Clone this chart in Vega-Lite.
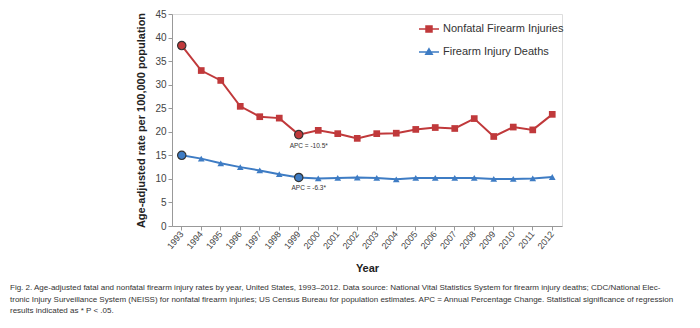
{
  "$schema": "https://vega.github.io/schema/vega-lite/v6.json",
  "autosize": "none",
  "width": 390,
  "height": 212,
  "padding": {"left": 172, "top": 14, "right": 138, "bottom": 102},
  "background": "white",
  "title": {
    "text": [
      "Fig. 2. Age-adjusted fatal and nonfatal firearm injury rates by year, United States, 1993–2012. Data source: National Vital Statistics System for firearm injury deaths; CDC/National Elec-",
      "tronic Injury Surveillance System (NEISS) for nonfatal firearm injuries; US Census Bureau for population estimates. APC = Annual Percentage Change. Statistical significance of regression",
      "results indicated as * P < .05."
    ],
    "orient": "bottom",
    "anchor": "start",
    "frame": "group",
    "dx": -162,
    "offset": 11,
    "font": "Liberation Sans",
    "fontSize": 8,
    "fontWeight": "normal",
    "lineHeight": 11.5,
    "color": "#333"
  },
  "data": {
    "values": [
      {"year": "1993", "series": "Nonfatal Firearm Injuries", "rate": 38.3},
      {"year": "1994", "series": "Nonfatal Firearm Injuries", "rate": 33.0},
      {"year": "1995", "series": "Nonfatal Firearm Injuries", "rate": 30.9},
      {"year": "1996", "series": "Nonfatal Firearm Injuries", "rate": 25.4},
      {"year": "1997", "series": "Nonfatal Firearm Injuries", "rate": 23.2},
      {"year": "1998", "series": "Nonfatal Firearm Injuries", "rate": 22.9},
      {"year": "1999", "series": "Nonfatal Firearm Injuries", "rate": 19.4},
      {"year": "2000", "series": "Nonfatal Firearm Injuries", "rate": 20.3},
      {"year": "2001", "series": "Nonfatal Firearm Injuries", "rate": 19.6},
      {"year": "2002", "series": "Nonfatal Firearm Injuries", "rate": 18.6},
      {"year": "2003", "series": "Nonfatal Firearm Injuries", "rate": 19.6},
      {"year": "2004", "series": "Nonfatal Firearm Injuries", "rate": 19.7},
      {"year": "2005", "series": "Nonfatal Firearm Injuries", "rate": 20.5},
      {"year": "2006", "series": "Nonfatal Firearm Injuries", "rate": 20.9},
      {"year": "2007", "series": "Nonfatal Firearm Injuries", "rate": 20.7},
      {"year": "2008", "series": "Nonfatal Firearm Injuries", "rate": 22.8},
      {"year": "2009", "series": "Nonfatal Firearm Injuries", "rate": 19.0},
      {"year": "2010", "series": "Nonfatal Firearm Injuries", "rate": 21.0},
      {"year": "2011", "series": "Nonfatal Firearm Injuries", "rate": 20.4},
      {"year": "2012", "series": "Nonfatal Firearm Injuries", "rate": 23.7},
      {"year": "1993", "series": "Firearm Injury Deaths", "rate": 15.0},
      {"year": "1994", "series": "Firearm Injury Deaths", "rate": 14.3},
      {"year": "1995", "series": "Firearm Injury Deaths", "rate": 13.3},
      {"year": "1996", "series": "Firearm Injury Deaths", "rate": 12.5},
      {"year": "1997", "series": "Firearm Injury Deaths", "rate": 11.8},
      {"year": "1998", "series": "Firearm Injury Deaths", "rate": 11.0},
      {"year": "1999", "series": "Firearm Injury Deaths", "rate": 10.3},
      {"year": "2000", "series": "Firearm Injury Deaths", "rate": 10.1},
      {"year": "2001", "series": "Firearm Injury Deaths", "rate": 10.2},
      {"year": "2002", "series": "Firearm Injury Deaths", "rate": 10.3},
      {"year": "2003", "series": "Firearm Injury Deaths", "rate": 10.2},
      {"year": "2004", "series": "Firearm Injury Deaths", "rate": 9.9},
      {"year": "2005", "series": "Firearm Injury Deaths", "rate": 10.2},
      {"year": "2006", "series": "Firearm Injury Deaths", "rate": 10.2},
      {"year": "2007", "series": "Firearm Injury Deaths", "rate": 10.2},
      {"year": "2008", "series": "Firearm Injury Deaths", "rate": 10.2},
      {"year": "2009", "series": "Firearm Injury Deaths", "rate": 10.0},
      {"year": "2010", "series": "Firearm Injury Deaths", "rate": 10.0},
      {"year": "2011", "series": "Firearm Injury Deaths", "rate": 10.1},
      {"year": "2012", "series": "Firearm Injury Deaths", "rate": 10.4}
    ]
  },
  "encoding": {
    "x": {
      "field": "year",
      "type": "ordinal",
      "scale": {"type": "band", "paddingInner": 0, "paddingOuter": 0},
      "axis": {
        "title": "Year",
        "titleFont": "Liberation Sans",
        "titleFontSize": 11,
        "titleFontWeight": "bold",
        "titleColor": "#222",
        "titleY": 36,
        "titleBaseline": "top",
        "labelAngle": -50,
        "labelFont": "Liberation Sans",
        "labelFontSize": 9,
        "labelColor": "#444",
        "labelPadding": 2,
        "domainColor": "#999",
        "tickColor": "#999",
        "tickSize": 4,
        "grid": false
      }
    },
    "y": {
      "field": "rate",
      "type": "quantitative",
      "scale": {"domain": [0, 45], "nice": false},
      "axis": {
        "title": "Age-adjusted rate per 100,000 population",
        "titleFont": "Liberation Sans",
        "titleFontSize": 11,
        "titleFontWeight": "bold",
        "titleColor": "#222",
        "titlePadding": 8,
        "values": [0, 5, 10, 15, 20, 25, 30, 35, 40, 45],
        "labelFont": "Liberation Sans",
        "labelFontSize": 10,
        "labelColor": "#444",
        "domainColor": "#999",
        "tickColor": "#999",
        "tickSize": 4,
        "grid": false
      }
    }
  },
  "layer": [
    {
      "mark": {"type": "line", "strokeWidth": 2},
      "encoding": {
        "color": {
          "field": "series",
          "type": "nominal",
          "sort": ["Nonfatal Firearm Injuries", "Firearm Injury Deaths"],
          "scale": {"domain": ["Nonfatal Firearm Injuries", "Firearm Injury Deaths"], "range": ["#C0393B", "#3E7CC4"]},
          "legend": {
            "title": null,
            "orient": "none",
            "legendX": 246,
            "legendY": 4,
            "labelFont": "Liberation Sans",
            "labelFontSize": 11,
            "labelColor": "#333",
            "symbolSize": 400,
            "symbolStrokeWidth": 2,
            "rowPadding": 6,
            "labelOffset": 3,
            "encode": {
              "symbols": {
                "update": {
                  "shape": {"signal": "datum.value == 'Nonfatal Firearm Injuries' ? 'M-1,0H1M-0.3,-0.3H0.3V0.3H-0.3Z' : 'M-1,0H1M0,-0.32L0.32,0.22H-0.32Z'"},
                  "fill": {"scale": "color", "field": "value"},
                  "stroke": {"scale": "color", "field": "value"},
                  "strokeWidth": {"value": 1.5}
                }
              }
            }
          }
        }
      }
    },
    {
      "transform": [{"filter": "datum.series == 'Nonfatal Firearm Injuries'"}],
      "mark": {"type": "point", "shape": "square", "filled": true, "opacity": 1, "size": 45},
      "encoding": {
        "color": {"field": "series", "type": "nominal"}
      }
    },
    {
      "transform": [{"filter": "datum.series == 'Firearm Injury Deaths'"}],
      "mark": {"type": "point", "shape": "triangle-up", "filled": true, "opacity": 1, "size": 45},
      "encoding": {
        "color": {"field": "series", "type": "nominal"}
      }
    },
    {
      "transform": [{"filter": "datum.year == '1993' || datum.year == '1999'"}],
      "mark": {"type": "circle", "size": 70, "opacity": 1, "stroke": "#333", "strokeWidth": 1.2},
      "encoding": {
        "color": {"field": "series", "type": "nominal"}
      }
    },
    {
      "transform": [{"filter": "datum.year == '1999'"}],
      "mark": {"type": "text", "dy": 11, "dx": 10, "baseline": "middle", "font": "Liberation Sans", "fontSize": 6.5, "color": "#333"},
      "encoding": {
        "text": {"condition": {"test": "datum.series == 'Nonfatal Firearm Injuries'", "value": "APC = -10.5*"}, "value": "APC = -6.3*"}
      }
    }
  ]
}
